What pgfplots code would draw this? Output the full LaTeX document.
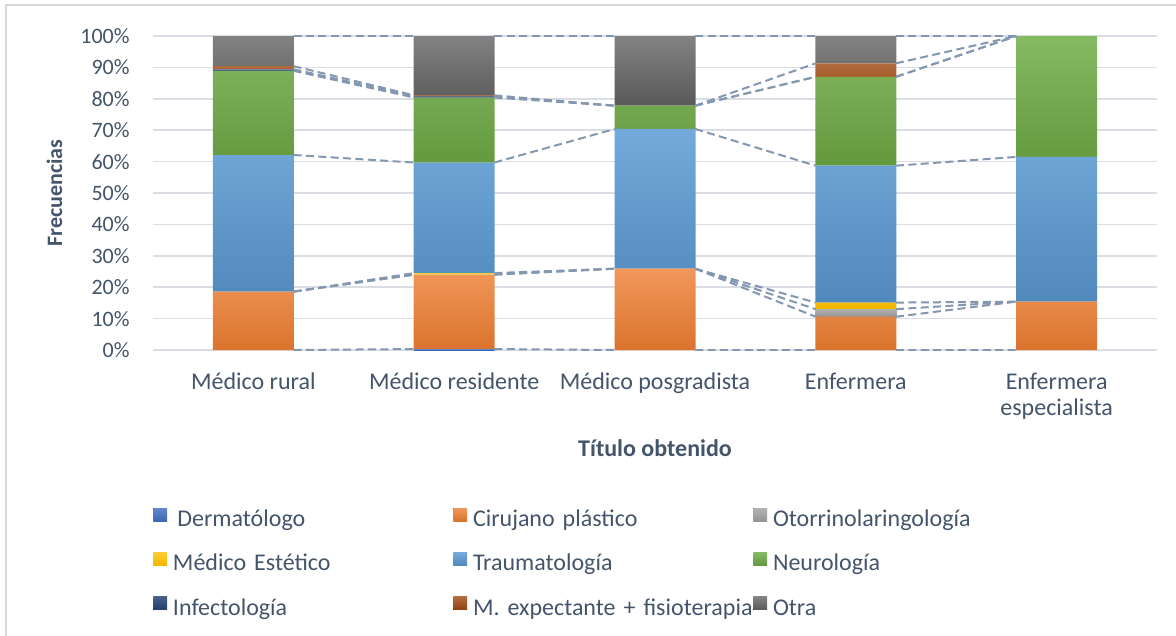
\documentclass[border=0pt]{standalone}
\usepackage{fontspec}
\setmainfont{Carlito}
\usepackage{pgfplots}
\pgfplotsset{compat=1.18}
\usepackage{pgfplotstable}

\definecolor{textc}{HTML}{44546A}
\definecolor{gridc}{HTML}{DADEE4}
\definecolor{framec}{HTML}{D9D9D9}
\definecolor{slc}{HTML}{8497B0}
\definecolor{cderm}{HTML}{4472C4}
\definecolor{ccir}{HTML}{ED7D31}
\definecolor{coto}{HTML}{A5A5A5}
\definecolor{cest}{HTML}{FFC000}
\definecolor{ctrau}{HTML}{5B9BD5}
\definecolor{cneuro}{HTML}{70AD47}
\definecolor{cinf}{HTML}{264478}
\definecolor{cmexp}{HTML}{9E480E}
\definecolor{cotra}{HTML}{636363}

% percentages per category (0 = Medico rural ... 4 = Enfermera especialista)
\pgfplotstableread{
x derm cir  oto est trau neuro inf mexp otra
0 0    18.6 0   0   43.5 26.8  0.5 1.0  9.6
1 0.3  23.7 0   0.5 35.2 20.7  0.4 0.3  18.9
2 0    25.9 0   0   44.5 7.4   0   0    22.2
3 0    10.6 2.4 2.1 43.6 28.3  0   4.3  8.7
4 0    15.4 0   0   46.1 38.5  0   0    0
}\data

% cumulative tops at the bar edges, for the series lines
\pgfplotstableread{
x   derm cir  oto  est  trau neuro inf  mexp otra
0.2 0    18.6 18.6 18.6 62.1 88.9  89.4 90.4 100
0.8 0.3  24.0 24.0 24.5 59.7 80.4  80.8 81.1 100
1.0 nan  nan  nan  nan  nan  nan   nan  nan  nan
1.2 0.3  24.0 24.0 24.5 59.7 80.4  80.8 81.1 100
1.8 0    25.9 25.9 25.9 70.4 77.8  77.8 77.8 100
2.0 nan  nan  nan  nan  nan  nan   nan  nan  nan
2.2 0    25.9 25.9 25.9 70.4 77.8  77.8 77.8 100
2.8 0    10.6 13.0 15.1 58.7 87.0  87.0 91.3 100
3.0 nan  nan  nan  nan  nan  nan   nan  nan  nan
3.2 0    10.6 13.0 15.1 58.7 87.0  87.0 91.3 100
3.8 0    15.4 15.4 15.4 61.5 100   100  100  100
}\cum

\newcommand{\fs}{\fontsize{11pt}{13.3pt}\selectfont}
\newcommand{\fl}{\fontsize{12pt}{13.3pt}\selectfont}

\begin{document}
\begin{tikzpicture}
\useasboundingbox (0pt,0pt) rectangle (588pt,-318pt);
\draw[framec, line width=0.75pt] (588pt,-2.5pt) -- (3pt,-2.5pt) -- (3pt,-318pt);

\begin{axis}[
  at={(76.5pt,-175pt)}, anchor=south west,
  scale only axis, width=502pt, height=157pt,
  xmin=-0.5, xmax=4.5, ymin=0, ymax=100,
  ybar stacked, bar width=40.5pt,
  axis line style={draw=none},
  major tick length=0pt,
  ymajorgrids, grid style={gridc, line width=0.75pt},
  ytick={0,10,...,100},
  /pgf/number format/assume math mode=true,
  yticklabel={\pgfmathprintnumber{\tick}\%},
  yticklabel style={anchor=east, inner sep=0pt, xshift=-11.5pt, font=\fs, text=textc},
  xtick={0,1,2,3,4},
  xticklabels={Médico rural, Médico residente, Médico posgradista, Enfermera, {Enfermera\\especialista}},
  xticklabel style={anchor=north, align=center, inner sep=0pt, yshift=-11.2pt, font=\fl, text=textc},
  ylabel={\textbf{Frecuencias}},
  ylabel style={at={(axis description cs:-0.0906,0.5)}, anchor=base, font=\fs, text=textc},
  xlabel={\textbf{Título obtenido}},
  xlabel style={at={(axis description cs:0.5,-0.3376)}, anchor=base, font=\fl, text=textc},
  legend columns=3,
  legend image code/.code={\fill[#1] (0pt,0pt) rectangle (6.8pt,6.4pt);},
  legend style={at={(axis description cs:0.0,-0.503)}, anchor=north west,
    draw=none, fill=none, inner sep=0pt, row sep=10.5pt,
    nodes={inner sep=0pt, text height=8pt, text depth=2.5pt, text width=140.2pt,
           align=left, font=\fl, text=textc},
    /tikz/every odd column/.style={column sep=3pt}},
]
\addplot[draw=none, top color=cderm!85!white, bottom color=cderm!90!black] table[x=x,y=derm]{\data};
\addplot[draw=none, top color=ccir!80!white, bottom color=ccir!92!black] table[x=x,y=cir]{\data};
\addplot[draw=none, top color=coto!85!white, bottom color=coto!90!black] table[x=x,y=oto]{\data};
\addplot[draw=none, top color=cest!80!white, bottom color=cest!95!black] table[x=x,y=est]{\data};
\addplot[draw=none, top color=ctrau!85!white, bottom color=ctrau!88!black] table[x=x,y=trau]{\data};
\addplot[draw=none, top color=cneuro!85!white, bottom color=cneuro!88!black] table[x=x,y=neuro]{\data};
\addplot[draw=none, top color=cinf!85!white, bottom color=cinf!90!black] table[x=x,y=inf]{\data};
\addplot[draw=none, top color=cmexp!80!white, bottom color=cmexp!92!black] table[x=x,y=mexp]{\data};
\addplot[draw=none, top color=cotra!80!white, bottom color=cotra!90!black] table[x=x,y=otra]{\data};
\legend{\mbox{\hspace{2.2pt}Dermatólogo}, \mbox{Cirujano plástico}, \mbox{Otorrinolaringología},
        \mbox{Médico Estético}, \mbox{Traumatología}, \mbox{Neurología},
        \mbox{Infectología}, \mbox{M. expectante + fisioterapia}, \mbox{Otra}}
\end{axis}

\begin{axis}[
  at={(76.5pt,-175pt)}, anchor=south west,
  scale only axis, width=502pt, height=157pt,
  xmin=-0.5, xmax=4.5, ymin=0, ymax=100,
  hide axis, unbounded coords=jump,
]
\pgfplotsinvokeforeach{derm,cir,oto,est,trau,neuro,inf,mexp,otra}{
  \addplot[slc, line width=1pt, dash pattern=on 4pt off 2.2pt, no markers] table[x=x,y=#1]{\cum};
}
\end{axis}
\end{tikzpicture}
\end{document}
